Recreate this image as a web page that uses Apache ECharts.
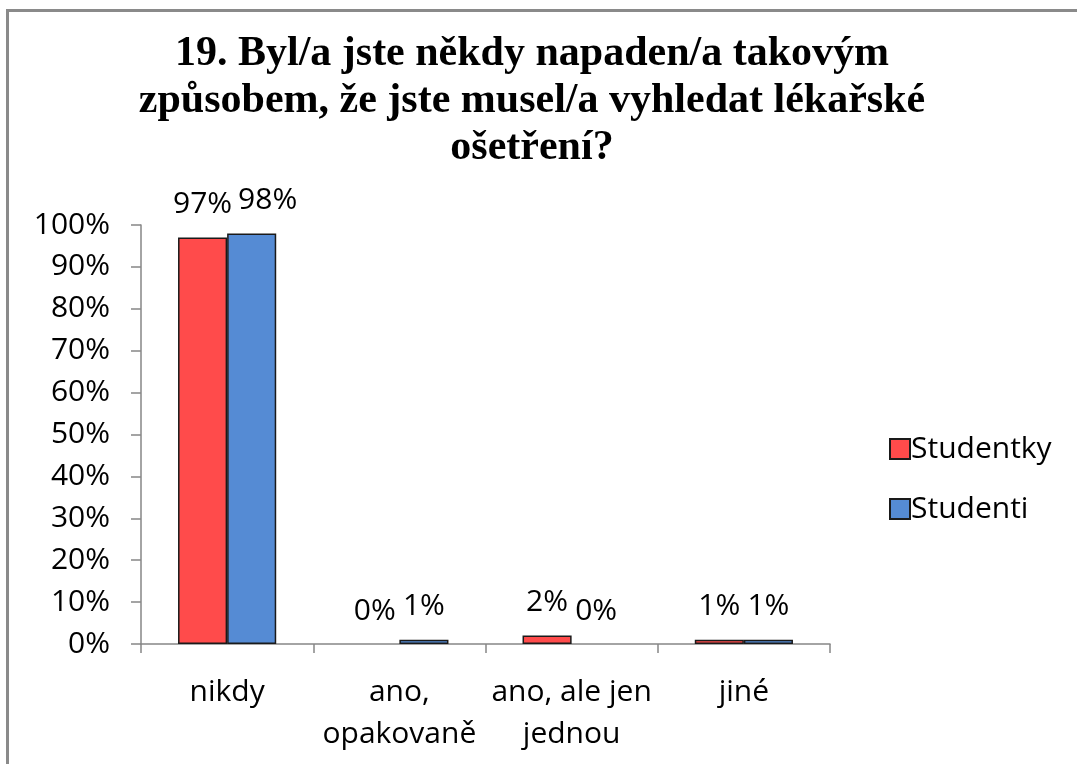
<!DOCTYPE html>
<html>
<head>
<meta charset="utf-8">
<script src="https://cdn.jsdelivr.net/npm/echarts@6/dist/echarts.min.js"></script>
<style>
  html, body { margin: 0; padding: 0; background: #fff; }
  #chart { width: 1077px; height: 764px; }
</style>
</head>
<body>
<div id="chart"></div>
<script>
// kategorie odpovědí
var categories = ['nikdy', 'ano,\nopakovaně', 'ano, ale jen\njednou', 'jiné'];
// procenta podle skupin
var studentky = [97, 0, 2, 1];
var studenti = [98, 1, 0, 1];
var seriesNames = ['Studentky', 'Studenti'];
var titleText = '19. Byl/a jste někdy napaden/a takovým\nzpůsobem, že jste musel/a vyhledat lékařské\nošetření?';

var chart = echarts.init(document.getElementById('chart'));
var sansFont = '"Open Sans", sans-serif';

//nulové sloupce bez okraje
function barData(arr) {
  return arr.map(function (v) {
    return v === 0 ? { value: v, itemStyle: { borderWidth: 0 } } : v;
  });
}

var option = {
  animation: false,
  backgroundColor: '#fff',
  title: {
    text: titleText,
    left: 527,
    textAlign: 'center',
    top: 26,
    textStyle: {
      fontFamily: '"Liberation Serif", serif',
      fontWeight: 'bold',
      fontSize: 42,
      lineHeight: 47,
      color: '#000'
    }
  },
  //rámeček grafu
  graphic: [{
    type: 'rect',
    shape: { x: 7.5, y: 10.5, width: 1200, height: 900 },
    style: { fill: 'none', stroke: '#8a8a8a', lineWidth: 3 },
    silent: true
  }],
  legend: {
    orient: 'vertical',
    left: 884,
    top: 429,
    itemWidth: 20,
    itemHeight: 20,
    itemGap: 30,
    icon: 'rect',
    textStyle: { fontFamily: sansFont, fontSize: 30, color: '#000', padding: [0, 0, 0, -4] },
    data: seriesNames
  },
  grid: { left: 141, right: 247, top: 225, bottom: 120 },
  xAxis: {
    type: 'category',
    data: categories,
    axisLine: { lineStyle: { color: '#868686', width: 1.5 } },
    axisTick: { show: true, length: 9, lineStyle: { color: '#868686', width: 1.5 } },
    axisLabel: {
      fontFamily: sansFont, fontSize: 30, color: '#000',
      margin: 27, lineHeight: 42, interval: 0
    }
  },
  yAxis: {
    type: 'value',
    min: 0,
    max: 100,
    interval: 10,
    splitLine: { show: false },
    axisLine: { show: true, lineStyle: { color: '#868686', width: 1.5 } },
    axisTick: { show: true, length: 10, lineStyle: { color: '#868686', width: 1.5 } },
    axisLabel: {
      formatter: '{value}%',
      fontFamily: sansFont, fontSize: 30, color: '#000', margin: 31
    }
  },
  series: [{
    name: seriesNames[0],
    type: 'bar',
    data: barData(studentky),
    barGap: '0%',
    barCategoryGap: '43%',
    itemStyle: { color: '#ff4b4b', borderColor: '#1a1a1a', borderWidth: 1.5 },
    label: {
      show: true, position: 'top', distance: 18, formatter: '{c}%',
      fontFamily: sansFont, fontSize: 30, color: '#000'
    }
  }, {
    name: seriesNames[1],
    type: 'bar',
    data: barData(studenti),
    itemStyle: { color: '#558bd4', borderColor: '#1a1a1a', borderWidth: 1.5 },
    label: {
      show: true, position: 'top', distance: 18, formatter: '{c}%',
      fontFamily: sansFont, fontSize: 30, color: '#000'
    },
    //popisek 98% posunout doprava, aby se nepřekrýval
    labelLayout: function (params) {
      if (params.dataIndex === 0) {
        return { dx: 16 };
      }
    }
  }]
};
chart.setOption(option);
</script>
</body>
</html>
